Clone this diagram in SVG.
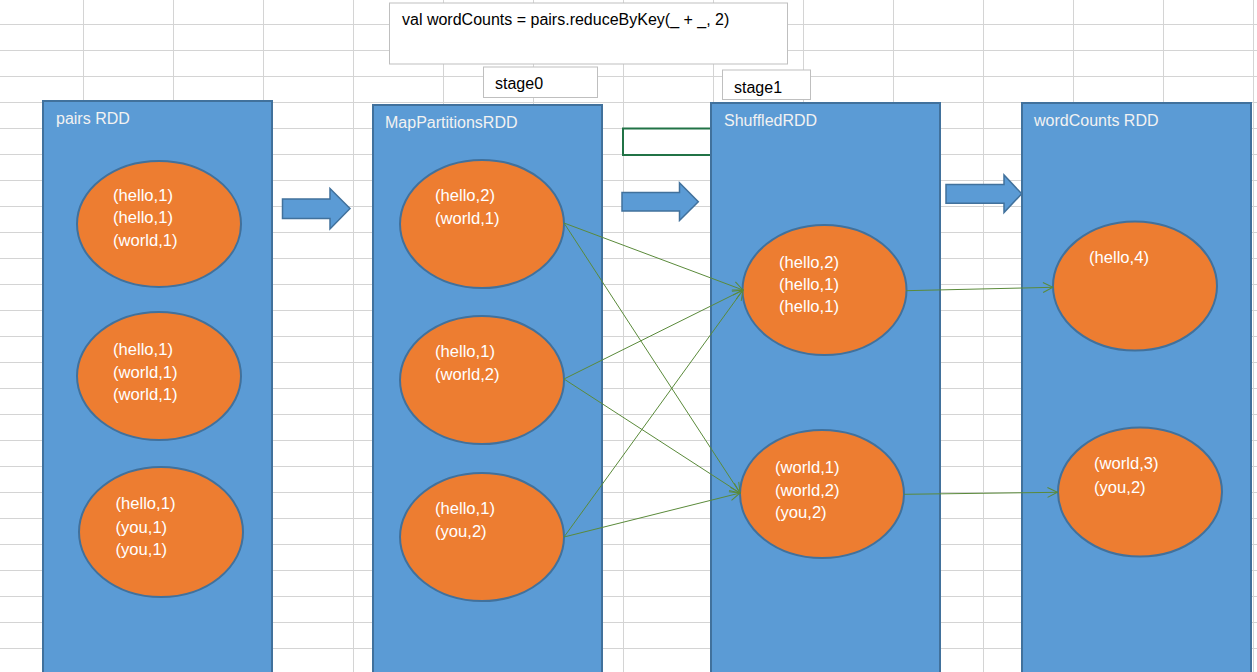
<svg xmlns="http://www.w3.org/2000/svg" width="1257" height="672" viewBox="0 0 1257 672">
<defs>
<style>
.grid line{stroke:#d4d4d4;stroke-width:1}
.rdd{fill:#5b9bd5;stroke:#41719c;stroke-width:2}
.part{fill:#ed7d31;stroke:#41719c;stroke-width:2}
.blk{fill:#5b9bd5;stroke:#41719c;stroke-width:1.5}
.box{fill:#fff;stroke:#bfbfbf;stroke-width:1}
.t{font-family:"Liberation Sans",Arial,sans-serif;font-size:16px}
.title{fill:#f2f2f2}
.pt{fill:#fff;font-size:16.6px}
.blk-t{fill:#000}
.conn line{stroke:#5a8a3a;stroke-width:1;fill:none}
</style>
<marker id="ah" markerUnits="userSpaceOnUse" markerWidth="12" markerHeight="12" refX="11" refY="6" orient="auto">
<path d="M1,1 L11,6 L1,11" fill="none" stroke="#5a8a3a" stroke-width="1"/>
</marker>
</defs>
<rect width="1257" height="672" fill="#fff"/>
<g class="grid">
<line x1="83.5" y1="0" x2="83.5" y2="672"/><line x1="173.5" y1="0" x2="173.5" y2="672"/><line x1="263.5" y1="0" x2="263.5" y2="672"/><line x1="353.5" y1="0" x2="353.5" y2="672"/><line x1="443.5" y1="0" x2="443.5" y2="672"/><line x1="533.5" y1="0" x2="533.5" y2="672"/><line x1="623.5" y1="0" x2="623.5" y2="672"/><line x1="713.5" y1="0" x2="713.5" y2="672"/><line x1="803.5" y1="0" x2="803.5" y2="672"/><line x1="893.5" y1="0" x2="893.5" y2="672"/><line x1="983.5" y1="0" x2="983.5" y2="672"/><line x1="1073.5" y1="0" x2="1073.5" y2="672"/><line x1="1163.5" y1="0" x2="1163.5" y2="672"/><line x1="1253.5" y1="0" x2="1253.5" y2="672"/>
<line x1="0" y1="24.5" x2="1257" y2="24.5"/><line x1="0" y1="50.5" x2="1257" y2="50.5"/><line x1="0" y1="76.5" x2="1257" y2="76.5"/><line x1="0" y1="102.5" x2="1257" y2="102.5"/><line x1="0" y1="128.5" x2="1257" y2="128.5"/><line x1="0" y1="154.5" x2="1257" y2="154.5"/><line x1="0" y1="180.5" x2="1257" y2="180.5"/><line x1="0" y1="206.5" x2="1257" y2="206.5"/><line x1="0" y1="232.5" x2="1257" y2="232.5"/><line x1="0" y1="258.5" x2="1257" y2="258.5"/><line x1="0" y1="284.5" x2="1257" y2="284.5"/><line x1="0" y1="310.5" x2="1257" y2="310.5"/><line x1="0" y1="336.5" x2="1257" y2="336.5"/><line x1="0" y1="362.5" x2="1257" y2="362.5"/><line x1="0" y1="388.5" x2="1257" y2="388.5"/><line x1="0" y1="414.5" x2="1257" y2="414.5"/><line x1="0" y1="440.5" x2="1257" y2="440.5"/><line x1="0" y1="466.5" x2="1257" y2="466.5"/><line x1="0" y1="492.5" x2="1257" y2="492.5"/><line x1="0" y1="518.5" x2="1257" y2="518.5"/><line x1="0" y1="544.5" x2="1257" y2="544.5"/><line x1="0" y1="570.5" x2="1257" y2="570.5"/><line x1="0" y1="596.5" x2="1257" y2="596.5"/><line x1="0" y1="622.5" x2="1257" y2="622.5"/><line x1="0" y1="648.5" x2="1257" y2="648.5"/>
</g>
<rect id="cell-selection" x="623" y="128.5" width="100" height="26.5" fill="#fff" stroke="#217346" stroke-width="2"/>

<g id="pairs-rdd">
<rect class="rdd" x="43" y="101" width="229" height="580"/>
<text class="t title" x="56" y="124">pairs RDD</text>
<ellipse class="part" cx="159" cy="224" rx="82" ry="63"/>
<text class="t pt" x="113" y="200.5">(hello,1)</text><text class="t pt" x="113" y="223.3">(hello,1)</text><text class="t pt" x="113" y="246">(world,1)</text>
<ellipse class="part" cx="159" cy="376" rx="82" ry="64"/>
<text class="t pt" x="113" y="354.5">(hello,1)</text><text class="t pt" x="113" y="377.5">(world,1)</text><text class="t pt" x="113" y="400">(world,1)</text>
<ellipse class="part" cx="161" cy="532" rx="82" ry="65"/>
<text class="t pt" x="115.5" y="509.3">(hello,1)</text><text class="t pt" x="115.5" y="532.5">(you,1)</text><text class="t pt" x="115.5" y="555">(you,1)</text>
</g>

<g id="mappartitions-rdd">
<rect class="rdd" x="373" y="105" width="229" height="576"/>
<text class="t title" x="385" y="128">MapPartitionsRDD</text>
<ellipse class="part" cx="482" cy="224" rx="82" ry="64"/>
<text class="t pt" x="435" y="200.5">(hello,2)</text><text class="t pt" x="435" y="223.5">(world,1)</text>
<ellipse class="part" cx="482" cy="380" rx="82" ry="64"/>
<text class="t pt" x="435" y="356.5">(hello,1)</text><text class="t pt" x="435" y="380">(world,2)</text>
<ellipse class="part" cx="482" cy="537" rx="82" ry="64"/>
<text class="t pt" x="435" y="513.5">(hello,1)</text><text class="t pt" x="435" y="536.5">(you,2)</text>
</g>

<g id="shuffled-rdd">
<rect class="rdd" x="711" y="103" width="229" height="578"/>
<text class="t title" x="724" y="126">ShuffledRDD</text>
<ellipse class="part" cx="824.5" cy="290" rx="82" ry="65"/>
<text class="t pt" x="779" y="267.7">(hello,2)</text><text class="t pt" x="779" y="290">(hello,1)</text><text class="t pt" x="779" y="312.3">(hello,1)</text>
<ellipse class="part" cx="822" cy="494" rx="82" ry="64"/>
<text class="t pt" x="775" y="472.5">(world,1)</text><text class="t pt" x="775" y="495.5">(world,2)</text><text class="t pt" x="775" y="517.5">(you,2)</text>
</g>

<g id="wordcounts-rdd">
<rect class="rdd" x="1022" y="103" width="229" height="578"/>
<text class="t title" x="1034" y="126">wordCounts RDD</text>
<ellipse class="part" cx="1135" cy="286" rx="82" ry="64.5"/>
<text class="t pt" x="1089" y="262.7">(hello,4)</text>
<ellipse class="part" cx="1140" cy="492" rx="82" ry="64.5"/>
<text class="t pt" x="1094" y="469.3">(world,3)</text><text class="t pt" x="1094" y="492.7">(you,2)</text>
</g>

<g id="code-box">
<rect class="box" x="389.5" y="3" width="398" height="61"/>
<text class="t blk-t" x="402" y="25" font-size="16.8">val wordCounts = pairs.reduceByKey(_ + _, 2)</text>
</g>
<g id="stage0">
<rect class="box" x="483.5" y="67" width="114" height="30.5"/>
<text class="t blk-t" x="495" y="89.3">stage0</text>
</g>
<g id="stage1">
<rect class="box" x="722.5" y="70" width="88" height="29.5"/>
<text class="t blk-t" x="734" y="92.5">stage1</text>
</g>

<g id="block-arrows">
<path class="blk" d="M282.5,199 L330,199 L330,188.5 L350,208.5 L330,229 L330,218.5 L282.5,218.5 Z"/>
<path class="blk" d="M622,192.5 L679.5,192.5 L679.5,182.7 L698.3,201.7 L679.5,220.5 L679.5,211 L622,211 Z"/>
<path class="blk" d="M946,184.5 L1004,184.5 L1004,175 L1021.7,193.8 L1004,212.5 L1004,203.3 L946,203.3 Z"/>
</g>

<g class="conn" id="connectors">
<line x1="564" y1="223" x2="743" y2="290" marker-end="url(#ah)"/>
<line x1="564" y1="223" x2="740" y2="493" marker-end="url(#ah)"/>
<line x1="564" y1="379" x2="743" y2="290" marker-end="url(#ah)"/>
<line x1="564" y1="379" x2="740" y2="493" marker-end="url(#ah)"/>
<line x1="564" y1="537" x2="743" y2="290" marker-end="url(#ah)"/>
<line x1="564" y1="537" x2="740" y2="493" marker-end="url(#ah)"/>
<line x1="906" y1="290.7" x2="1053" y2="287.3" marker-end="url(#ah)"/>
<line x1="904" y1="494.3" x2="1057.5" y2="492.3" marker-end="url(#ah)"/>
</g>
</svg>
